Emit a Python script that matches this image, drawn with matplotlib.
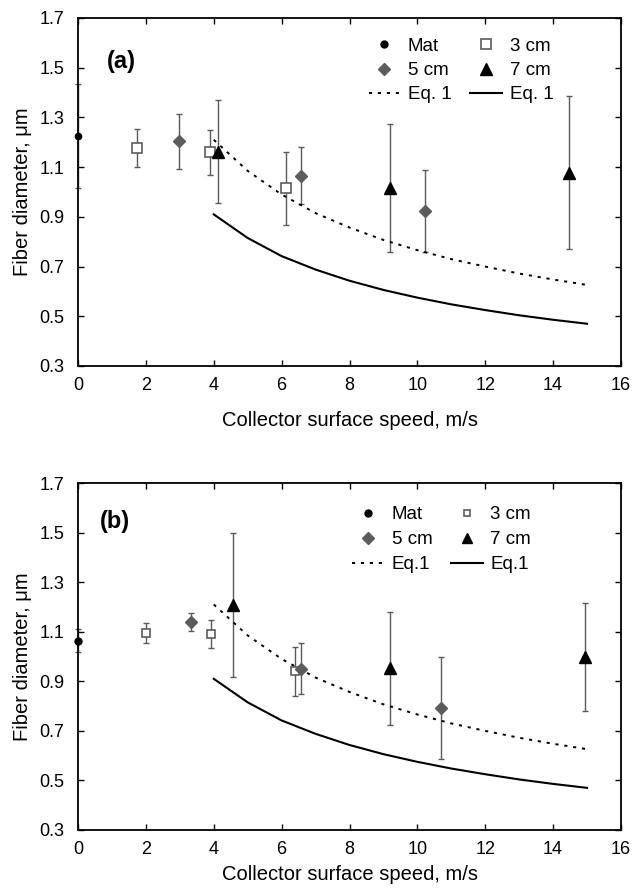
import matplotlib
matplotlib.use("Agg")
import matplotlib.pyplot as plt
from matplotlib.lines import Line2D

plt.rcParams['font.family'] = ['Liberation Sans', 'DejaVu Sans']

# ---------------- data: panel (a) ----------------
a_mat_x = [0.0]
a_mat_y = [1.225]
a_mat_err = [0.21]
a_3cm_x = [1.75, 3.90, 6.14]
a_3cm_y = [1.176, 1.159, 1.015]
a_3cm_err = [0.077, 0.090, 0.147]
a_5cm_x = [2.98, 6.57, 10.23]
a_5cm_y = [1.204, 1.065, 0.923]
a_5cm_err = [0.110, 0.115, 0.165]
a_7cm_x = [4.13, 9.19, 14.48]
a_7cm_y = [1.162, 1.017, 1.078]
a_7cm_err = [0.208, 0.257, 0.307]

# ---------------- data: panel (b) ----------------
b_mat_x = [0.0]
b_mat_y = [1.064]
b_mat_err = [0.047]
b_3cm_x = [2.0, 3.93, 6.40]
b_3cm_y = [1.094, 1.091, 0.940]
b_3cm_err = [0.041, 0.056, 0.100]
b_5cm_x = [3.32, 6.57, 10.71]
b_5cm_y = [1.139, 0.950, 0.793]
b_5cm_err = [0.038, 0.103, 0.205]
b_7cm_x = [4.56, 9.19, 14.94]
b_7cm_y = [1.208, 0.952, 0.998]
b_7cm_err = [0.290, 0.227, 0.216]

# ---------------- Eq. 1 curves ----------------
eq_x = [4, 5, 6, 7, 8, 9, 10, 11, 12, 13, 14, 15]
eq_dotted = [1.21, 1.085, 0.99, 0.915, 0.857, 0.807, 0.766, 0.730, 0.700, 0.672, 0.648, 0.626]
eq_solid = [0.91, 0.815, 0.742, 0.688, 0.643, 0.606, 0.575, 0.548, 0.525, 0.504, 0.486, 0.470]

x_ticks = [0, 2, 4, 6, 8, 10, 12, 14, 16]
y_ticks = [0.3, 0.5, 0.7, 0.9, 1.1, 1.3, 1.5, 1.7]
y_tick_labels = ['0.3', '0.5', '0.7', '0.9', '1.1', '1.3', '1.5', '1.7']

W, H = 636, 891
fig = plt.figure(figsize=(W / 100, H / 100), dpi=100)

ax_left = 78 / W
ax_w = (621 - 78) / W
axA = fig.add_axes([ax_left, 1 - 366 / H, ax_w, (366 - 18) / H])
axB = fig.add_axes([ax_left, 1 - 830 / H, ax_w, (830 - 483) / H])

ERR_C = '#5a5a5a'
GRAY = '#5c5c5c'
FS = 13
LFS = 14.5


def draw(ax, d, big, label, lab_pos, eqlab, leg_anchor, lspace, xlpad):
    (mx, my, me, sx, sy, se, dx, dy, de, tx, ty, te) = d
    sq_ms, d_ms, t_ms, m_ms = big
    ekw = dict(fmt='none', ecolor=ERR_C, elinewidth=1.0, capsize=2.5, capthick=1.0, zorder=2)
    ax.errorbar(mx, my, yerr=me, clip_on=False, **ekw)
    ax.errorbar(sx, sy, yerr=se, **ekw)
    ax.errorbar(dx, dy, yerr=de, **ekw)
    ax.errorbar(tx, ty, yerr=te, **ekw)
    ax.plot(eq_x, eq_dotted, color='black', lw=1.4, linestyle=(0, (1.6, 3.0)), zorder=3)
    ax.plot(eq_x, eq_solid, color='black', lw=1.5, zorder=3)
    ax.plot(mx, my, 'o', color='black', ms=m_ms, zorder=5, clip_on=False)
    ax.plot(sx, sy, 's', mfc='white', mec=GRAY, mew=1.2, ms=sq_ms, zorder=5)
    ax.plot(dx, dy, 'D', color=GRAY, ms=d_ms, zorder=5)
    ax.plot(tx, ty, '^', color='black', ms=t_ms, zorder=5)

    ax.set_xlim(0, 16)
    ax.set_ylim(0.3, 1.7)
    ax.set_xticks(x_ticks)
    ax.set_yticks(y_ticks)
    ax.set_yticklabels(y_tick_labels)
    ax.tick_params(direction='in', length=4, width=1.0, top=True, right=True,
                   labelsize=FS)
    ax.tick_params(axis='x', pad=8)
    ax.tick_params(axis='y', pad=10)
    for s in ax.spines.values():
        s.set_linewidth(1.3)
    ax.set_xlabel('Collector surface speed, m/s', fontsize=LFS, labelpad=xlpad)
    ax.set_ylabel('Fiber diameter, \u03bcm', fontsize=LFS, labelpad=5)
    ax.text(lab_pos[0], lab_pos[1], label, transform=ax.transAxes, fontsize=17,
            fontweight='bold', va='center', ha='left')

    handles = [
        Line2D([], [], marker='o', color='black', ls='none', ms=5),
        Line2D([], [], marker='D', color=GRAY, ls='none', ms=d_ms - 0.5),
        Line2D([], [], color='black', lw=1.4, linestyle=(0, (1.6, 3.0))),
        Line2D([], [], marker='s', mfc='white', mec=GRAY, mew=1.2, ls='none', ms=sq_ms - 0.5),
        Line2D([], [], marker='^', color='black', ls='none', ms=t_ms - 0.5),
        Line2D([], [], color='black', lw=1.5),
    ]
    labels = ['Mat', '5 cm', eqlab, '3 cm', '7 cm', eqlab]
    ax.legend(handles, labels, ncol=2, frameon=False, fontsize=FS + 0.5,
              loc='upper left', bbox_to_anchor=leg_anchor, borderpad=0,
              borderaxespad=0, handlelength=1.7, handletextpad=0.4,
              columnspacing=1.0, labelspacing=lspace)


draw(axA, (a_mat_x, a_mat_y, a_mat_err, a_3cm_x, a_3cm_y, a_3cm_err,
           a_5cm_x, a_5cm_y, a_5cm_err, a_7cm_x, a_7cm_y, a_7cm_err),
     (7.2, 6.5, 9.0, 4.5), '(a)', (0.053, 0.874), 'Eq. 1', (0.535, 0.943), 0.38, 12)
draw(axB, (b_mat_x, b_mat_y, b_mat_err, b_3cm_x, b_3cm_y, b_3cm_err,
           b_5cm_x, b_5cm_y, b_5cm_err, b_7cm_x, b_7cm_y, b_7cm_err),
     (5.5, 6.5, 8.0, 5.0), '(b)', (0.040, 0.888), 'Eq.1', (0.505, 0.933), 0.42, 5)

fig.savefig('out.png', dpi=100)
